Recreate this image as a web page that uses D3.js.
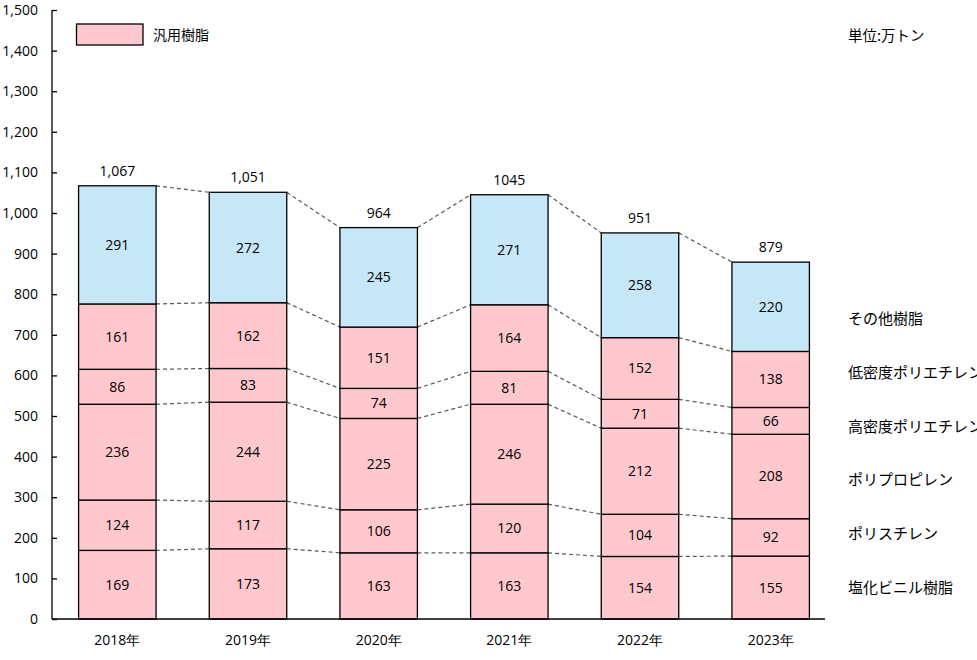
<!DOCTYPE html>
<html>
<head>
<meta charset="utf-8">
<script src="https://cdn.jsdelivr.net/npm/d3@7"></script>
<style>
  body { margin: 0; background: #fff; }
  svg { display: block; }
  .num { font-family: "Open Sans", sans-serif; font-size: 14px; fill: #000; }
  .jp { font-family: "Noto Sans CJK JP", sans-serif; fill: #000; }
</style>
</head>
<body>
<div id="chart"></div>
<script>
const years = ['2018年', '2019年', '2020年', '2021年', '2022年', '2023年'];
const seriesNames = ['塩化ビニル樹脂', 'ポリスチレン', 'ポリプロピレン', '高密度ポリエチレン', '低密度ポリエチレン', 'その他樹脂'];
const pvc = [169, 173, 163, 163, 154, 155];
const ps = [124, 117, 106, 120, 104, 92];
const pp = [236, 244, 225, 246, 212, 208];
const hdpe = [86, 83, 74, 81, 71, 66];
const ldpe = [161, 162, 151, 164, 152, 138];
const other = [291, 272, 245, 271, 258, 220];
const totalLabels = ['1,067', '1,051', '964', '1045', '951', '879'];
const yTicks = [0, 100, 200, 300, 400, 500, 600, 700, 800, 900, 1000, 1100, 1200, 1300, 1400, 1500];

const series = [pvc, ps, pp, hdpe, ldpe, other];
const colors = ['#FFC7CE', '#FFC7CE', '#FFC7CE', '#FFC7CE', '#FFC7CE', '#C6E7F8'];

const width = 977;
const height = 660;

const svg = d3.select('#chart')
  .append('svg')
  .attr('width', width)
  .attr('height', height);

const x = d3.scaleBand()
  .domain(years)
  .range([52, 836]);
const barW = 77.5;

const y = d3.scaleLinear()
  .domain([0, 1500])
  .range([619, 10]);

// stack the data
const rows = years.map((yr, i) => {
  const r = { year: yr };
  seriesNames.forEach((s, k) => { r[s] = series[k][i]; });
  return r;
});
const stacked = d3.stack().keys(seriesNames)(rows);

// dashed connectors between bars
const boundaries = stacked.map((layer) => layer.map((d) => d[1]));
boundaries.forEach((vals) => {
  for (let i = 0; i < vals.length - 1; i++) {
    svg.append('line')
      .attr('x1', x(years[i]) + x.bandwidth() / 2 + barW / 2)
      .attr('x2', x(years[i + 1]) + x.bandwidth() / 2 - barW / 2)
      .attr('y1', y(vals[i]))
      .attr('y2', y(vals[i + 1]))
      .attr('stroke', '#595959')
      .attr('stroke-width', 1.2)
      .attr('stroke-dasharray', '4,3');
  }
});

// bars
const layers = svg.selectAll('g.layer')
  .data(stacked)
  .enter()
  .append('g')
  .attr('class', 'layer');

layers.selectAll('rect')
  .data((d, k) => d.map((p) => ({ p, k })))
  .enter()
  .append('rect')
  .attr('x', (d) => x(d.p.data.year) + x.bandwidth() / 2 - barW / 2)
  .attr('y', (d) => y(d.p[1]))
  .attr('width', barW)
  .attr('height', (d) => y(d.p[0]) - y(d.p[1]))
  .attr('fill', (d) => colors[d.k])
  .attr('stroke', '#000')
  .attr('stroke-width', 1.3);

layers.selectAll('text')
  .data((d) => d)
  .enter()
  .append('text')
  .attr('class', 'num')
  .attr('x', (d) => x(d.data.year) + x.bandwidth() / 2)
  .attr('y', (d) => (y(d[0]) + y(d[1])) / 2 + 5)
  .attr('text-anchor', 'middle')
  .text((d) => d[1] - d[0]);

// totals
svg.selectAll('text.total')
  .data(years)
  .enter()
  .append('text')
  .attr('class', 'num total')
  .attr('x', (d) => x(d) + x.bandwidth() / 2)
  .attr('y', (d, i) => y(stacked[stacked.length - 1][i][1]) - 10)
  .attr('text-anchor', 'middle')
  .text((d, i) => totalLabels[i]);

// y axis
const yAxis = d3.axisLeft(y)
  .tickValues(yTicks)
  .tickSize(-5)
  .tickPadding(14)
  .tickFormat(d3.format(','));
const yg = svg.append('g')
  .attr('transform', 'translate(52,0)')
  .call(yAxis);
yg.select('.domain').remove();
yg.selectAll('.tick line').attr('stroke', '#000').attr('stroke-width', 1.3);
yg.selectAll('.tick text')
  .attr('class', 'num')
  .attr('fill', '#000')
  .style('font-size', '14px')
  .style('font-family', '"Open Sans", sans-serif');
yg.append('line')
  .attr('x1', 0).attr('x2', 0)
  .attr('y1', y(1500)).attr('y2', y(0))
  .attr('stroke', '#000')
  .attr('stroke-width', 1.3);

// x axis line
svg.append('line')
  .attr('x1', 52).attr('x2', 825)
  .attr('y1', y(0)).attr('y2', y(0))
  .attr('stroke', '#000')
  .attr('stroke-width', 1.3);

svg.selectAll('text.year')
  .data(years)
  .enter()
  .append('text')
  .attr('class', 'num year')
  .attr('x', (d) => x(d) + x.bandwidth() / 2)
  .attr('y', 645)
  .attr('text-anchor', 'middle')
  .text((d) => d);

// legend
svg.append('rect')
  .attr('x', 76.5).attr('y', 24)
  .attr('width', 66.5).attr('height', 21)
  .attr('fill', '#FFC7CE')
  .attr('stroke', '#000')
  .attr('stroke-width', 1.3);
svg.append('text')
  .attr('class', 'jp')
  .attr('x', 153).attr('y', 40)
  .style('font-size', '14px')
  .text('汎用樹脂');

svg.append('text')
  .attr('class', 'jp')
  .attr('x', 848).attr('y', 41)
  .style('font-size', '14.5px')
  .text('単位:万トン');

// series names on the right
seriesNames.forEach((name, k) => {
  svg.append('text')
    .attr('class', 'jp')
    .attr('x', 848)
    .attr('y', 593 - k * 53.8)
    .style('font-size', '15px')
    .text(name);
});
</script>
</body>
</html>
